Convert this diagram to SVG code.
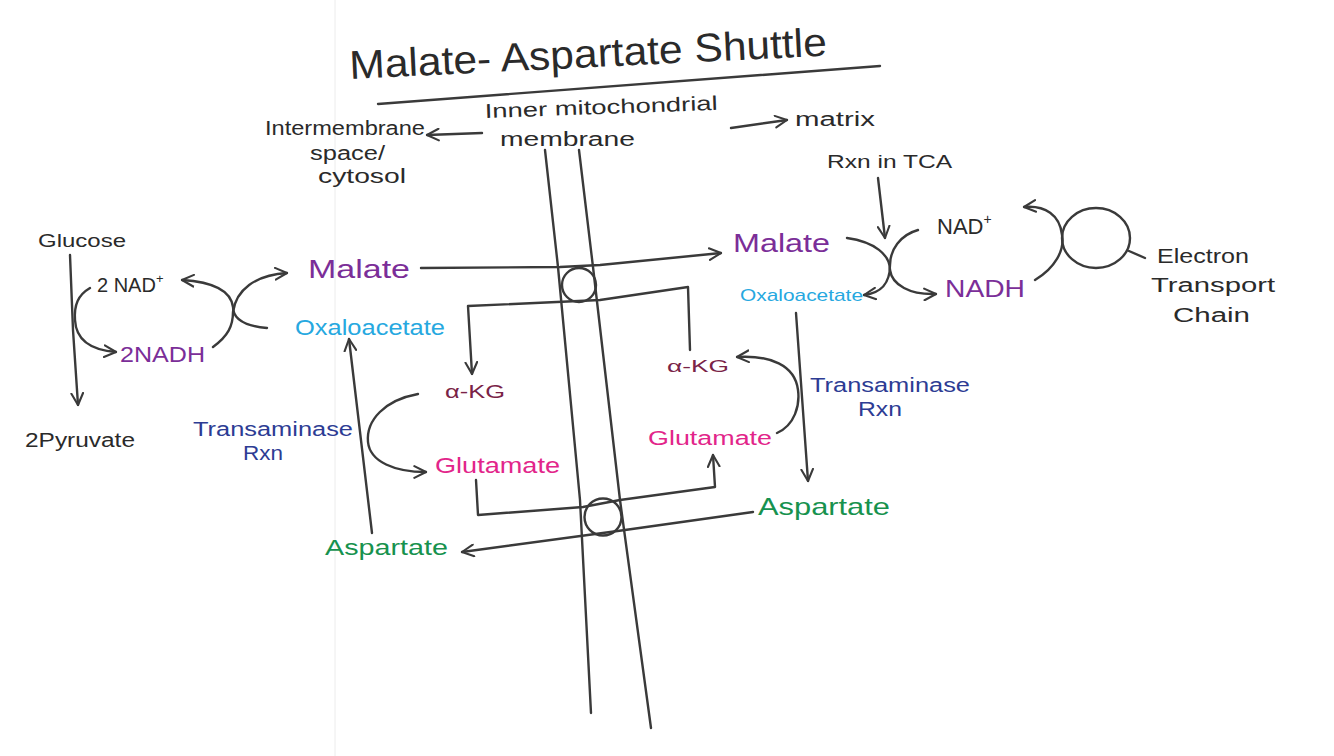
<svg xmlns="http://www.w3.org/2000/svg" width="1334" height="756" viewBox="0 0 1334 756">
<style>
text{font-family:"Liberation Sans","DejaVu Sans",sans-serif;fill:#2a2a2a}
.ln{fill:none;stroke:#3a3a3a;stroke-width:2.4;stroke-linecap:round;stroke-linejoin:round}
.ar{marker-end:url(#ah)}
.pur{fill:#7b2e98}
.cyan{fill:#26a8e0}
.pink{fill:#e2258a}
.grn{fill:#17924e}
.blu{fill:#2d3c94}
.mar{fill:#7a2347}
</style>
<defs>
<marker id="ah" viewBox="0 0 12 12" refX="11" refY="6" markerWidth="14" markerHeight="14" markerUnits="userSpaceOnUse" orient="auto">
<path d="M1,1 L11,6 L1,11" fill="none" stroke="#3a3a3a" stroke-width="1.8" stroke-linecap="round" stroke-linejoin="round"/>
</marker>
</defs>
<rect width="1334" height="756" fill="#ffffff"/>
<line x1="335" y1="0" x2="335" y2="756" stroke="#ececec" stroke-width="1"/>

<g id="title">
<text x="350" y="79" font-size="40" textLength="478" lengthAdjust="spacingAndGlyphs" transform="rotate(-2.8 350 79)">Malate- Aspartate Shuttle</text>
<path class="ln" d="M378,104 L880,66"/>
</g>

<g id="membrane">
<path class="ln" d="M545,150 L558,267 L580,500 L591,713"/>
<path class="ln" d="M579,150 L593,267 L620,500 L651,728"/>
<circle class="ln" cx="579" cy="285" r="17"/>
<circle class="ln" cx="603" cy="517" r="18.5"/>
</g>

<g id="labels-top">
<text x="265" y="135" font-size="20" textLength="160" lengthAdjust="spacingAndGlyphs">Intermembrane</text>
<text x="310" y="160" font-size="20" textLength="75" lengthAdjust="spacingAndGlyphs">space/</text>
<text x="318" y="183" font-size="20" textLength="88" lengthAdjust="spacingAndGlyphs">cytosol</text>
<text x="485" y="118" font-size="20" textLength="233" lengthAdjust="spacingAndGlyphs" transform="rotate(-2 485 118)">Inner mitochondrial</text>
<text x="500" y="146" font-size="20" textLength="135" lengthAdjust="spacingAndGlyphs">membrane</text>
<text x="795" y="126" font-size="20" textLength="80" lengthAdjust="spacingAndGlyphs">matrix</text>
</g>

<g id="glucose"><text x="38" y="247" font-size="18" textLength="88" lengthAdjust="spacingAndGlyphs">Glucose</text></g>
<g id="pyruvate"><text x="25" y="447" font-size="20" textLength="110" lengthAdjust="spacingAndGlyphs">2Pyruvate</text></g>
<g id="nad-left"><text x="97" y="292" font-size="20">2 NAD<tspan font-size="13" dy="-9">+</tspan></text></g>
<g id="nadh-left"><text class="pur" x="120" y="362" font-size="22" textLength="85" lengthAdjust="spacingAndGlyphs">2NADH</text></g>
<g id="malate-left"><text class="pur" x="308" y="278" font-size="26" textLength="102" lengthAdjust="spacingAndGlyphs">Malate</text></g>
<g id="oaa-left"><text class="cyan" x="295" y="335" font-size="22" textLength="150" lengthAdjust="spacingAndGlyphs">Oxaloacetate</text></g>
<g id="trans-left">
<text class="blu" x="193" y="436" font-size="20" textLength="160" lengthAdjust="spacingAndGlyphs">Transaminase</text>
<text class="blu" x="243" y="460" font-size="20" textLength="40" lengthAdjust="spacingAndGlyphs">Rxn</text>
</g>
<g id="akg-left"><text class="mar" x="445" y="398" font-size="18" textLength="60" lengthAdjust="spacingAndGlyphs">α-KG</text></g>
<g id="glu-left"><text class="pink" x="435" y="473" font-size="22" textLength="125" lengthAdjust="spacingAndGlyphs">Glutamate</text></g>
<g id="asp-left"><text class="grn" x="325" y="555" font-size="22" textLength="123" lengthAdjust="spacingAndGlyphs">Aspartate</text></g>

<g id="malate-right"><text class="pur" x="733" y="252" font-size="26" textLength="97" lengthAdjust="spacingAndGlyphs">Malate</text></g>
<g id="oaa-right"><text class="cyan" x="740" y="301" font-size="17" textLength="123" lengthAdjust="spacingAndGlyphs">Oxaloacetate</text></g>
<g id="tca"><text x="827" y="168" font-size="19" textLength="125" lengthAdjust="spacingAndGlyphs">Rxn in TCA</text></g>
<g id="nad-right"><text x="937" y="234" font-size="22">NAD<tspan font-size="14" dy="-10">+</tspan></text></g>
<g id="nadh-right"><text class="pur" x="945" y="297" font-size="24" textLength="80" lengthAdjust="spacingAndGlyphs">NADH</text></g>
<g id="etc">
<ellipse class="ln" cx="1096" cy="238" rx="34" ry="30"/>
<text x="1157" y="263" font-size="20" textLength="92" lengthAdjust="spacingAndGlyphs">Electron</text>
<text x="1151" y="292" font-size="20" textLength="124" lengthAdjust="spacingAndGlyphs">Transport</text>
<text x="1173" y="322" font-size="20" textLength="77" lengthAdjust="spacingAndGlyphs">Chain</text>
</g>
<g id="akg-right"><text class="mar" x="667" y="372" font-size="16" textLength="62" lengthAdjust="spacingAndGlyphs">α-KG</text></g>
<g id="glu-right"><text class="pink" x="648" y="445" font-size="20" textLength="124" lengthAdjust="spacingAndGlyphs">Glutamate</text></g>
<g id="trans-right">
<text class="blu" x="810" y="392" font-size="20" textLength="160" lengthAdjust="spacingAndGlyphs">Transaminase</text>
<text class="blu" x="858" y="416" font-size="20" textLength="44" lengthAdjust="spacingAndGlyphs">Rxn</text>
</g>
<g id="asp-right"><text class="grn" x="758" y="515" font-size="24" textLength="132" lengthAdjust="spacingAndGlyphs">Aspartate</text></g>

<g id="connectors">
<path class="ln ar" d="M482,133 L427,135"/>
<path class="ln ar" d="M731,128 L787,120"/>
<path class="ln ar" d="M70,255 L73,330 L78,405"/>
<path class="ln ar" d="M90,288 C78,295 74,305 75,320 C76,340 90,350 116,352"/>
<path class="ln ar" d="M267,328 C245,326 233,320 233,307 C231,292 215,282 182,280"/>
<path class="ln ar" d="M213,347 C228,336 233,326 233,312 C236,290 255,275 287,273"/>
<path class="ln ar" d="M421,268 L560,267 L600,265 L721,253"/>
<path class="ln ar" d="M690,350 L688,287 L600,300 L468,306 L472,374"/>
<path class="ln ar" d="M476,480 L478,515 L583,507 L620,500 L715,487 L713,455"/>
<path class="ln ar" d="M753,512 L625,530 L462,552"/>
<path class="ln ar" d="M372,533 L349,339"/>
<path class="ln ar" d="M418,394 C385,400 366,420 368,442 C370,462 395,472 426,472"/>
<path class="ln ar" d="M878,178 L885,238"/>
<path class="ln ar" d="M847,238 C875,242 890,255 890,270 C892,285 910,295 936,294"/>
<path class="ln ar" d="M918,230 C900,235 890,250 890,265 C890,285 880,293 864,295"/>
<path class="ln ar" d="M1035,280 C1055,268 1065,250 1062,235 C1060,215 1045,205 1024,207"/>
<path class="ln" d="M1129,251 L1145,258"/>
<path class="ln ar" d="M796,313 L808,481"/>
<path class="ln ar" d="M777,433 C795,425 800,405 798,390 C795,365 770,355 737,357"/>
</g>
</svg>
